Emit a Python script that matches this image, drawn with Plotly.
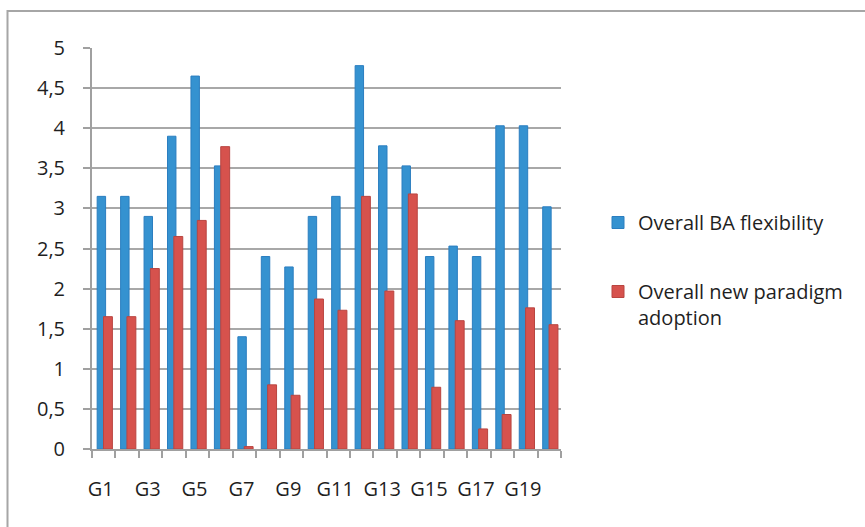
import plotly.graph_objects as go

# Group labels and the two scores per group
groups = [f"G{i}" for i in range(1, 21)]
ba_flexibility = [3.15, 3.15, 2.90, 3.90, 4.65, 3.53, 1.40, 2.40, 2.27, 2.90,
                  3.15, 4.78, 3.78, 3.53, 2.40, 2.53, 2.40, 4.03, 4.03, 3.02]
paradigm_adoption = [1.65, 1.65, 2.25, 2.65, 2.85, 3.77, 0.03, 0.80, 0.67, 1.87,
                     1.73, 3.15, 1.97, 3.18, 0.77, 1.60, 0.25, 0.43, 1.76, 1.55]
y_ticks = [0, 0.5, 1, 1.5, 2, 2.5, 3, 3.5, 4, 4.5, 5]

positions = list(range(len(groups)))
FONT = "Open Sans"
TEXT = "#1f1f1f"
AXIS = "#a0a0a0"

fig = go.Figure()
# Bars of a pair overlap slightly, the red one drawn in front
fig.add_trace(go.Bar(
    x=positions, y=ba_flexibility, name="Overall BA flexibility",
    legendgroup="ba", offset=-0.28, width=0.36,
    marker=dict(color="#3592D0", line=dict(color="#2B7EC0", width=1)),
))
fig.add_trace(go.Bar(
    x=positions, y=paradigm_adoption, name="Overall new paradigm<br>adoption",
    legendgroup="np", offset=-0.01, width=0.38,
    marker=dict(color="#D6524D", line=dict(color="#B94540", width=1)),
))

W, H = 865, 527
L, R, T, B = 92, W - 561, 48, H - 449
pw, ph = W - L - R, H - T - B

def px_x(p):
    return (p - L) / pw

def px_y(p):
    return (H - B - p) / ph

fig.update_layout(
    width=W, height=H,
    margin=dict(l=L, r=R, t=T, b=B),
    paper_bgcolor="white", plot_bgcolor="white",
    separators=",.",
    barmode="overlay",
    font=dict(family=FONT, size=20, color=TEXT),
    showlegend=True,
    legend=dict(
        x=px_x(598), xanchor="left", y=px_y(203), yanchor="top",
        font=dict(family=FONT, size=20, color=TEXT),
        tracegroupgap=40, valign="top", bgcolor="rgba(0,0,0,0)",
    ),
    xaxis=dict(
        range=[-0.5, len(groups) - 0.5],
        tickmode="array",
        tickvals=positions[::2],
        ticktext=groups[::2],
        ticks="",
        ticklabelstandoff=21,
        ticklabelshift=-3,
        showgrid=False, zeroline=False,
        showline=True, linecolor=AXIS, linewidth=2,
        minor=dict(
            tickmode="array",
            tickvals=[p - 0.5 for p in positions] + [positions[-1] + 0.5],
            ticks="outside", ticklen=7, tickwidth=2, tickcolor=AXIS,
            showgrid=False,
        ),
        fixedrange=True,
    ),
    yaxis=dict(
        range=[0, 5],
        tickmode="array", tickvals=y_ticks,
        ticks="outside", ticklen=7, tickwidth=2, tickcolor=AXIS,
        ticklabelstandoff=14,
        showgrid=True, gridcolor="#a8a8a8", gridwidth=2,
        zeroline=False,
        showline=True, linecolor=AXIS, linewidth=2,
        fixedrange=True,
    ),
    shapes=[
        dict(
            type="rect", xref="paper", yref="paper", layer="below",
            x0=px_x(7.5), x1=px_x(875), y0=px_y(11), y1=px_y(540),
            line=dict(color="#a6a6a6", width=2), fillcolor="rgba(0,0,0,0)",
        ),
    ],
)

fig.write_html("out.html")
